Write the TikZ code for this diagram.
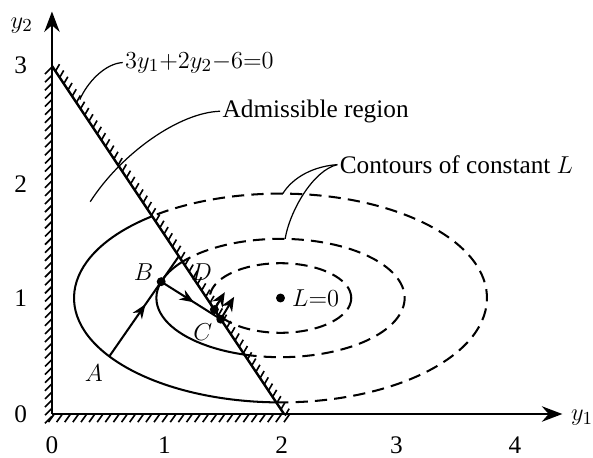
\documentclass[tikz,border=0pt]{standalone}
\usepackage{fontspec}
\setmainfont{Liberation Serif}
\usetikzlibrary{arrows.meta,decorations.markings}
\begin{document}
\begin{tikzpicture}[x=2cm,y=2cm,
  lbl/.style={font=\fontsize{12.4}{14}\selectfont, inner sep=1pt},
  axisline/.style={line width=1.4pt, -{Stealth[length=10pt,width=7.5pt]}},
  hatch/.style={line width=0.8pt},
  cont/.style={line width=1pt},
  dcont/.style={line width=1pt, dash pattern=on 6pt off 3.5pt},
  leader/.style={line width=0.6pt},
  ptdot/.style={circle, fill, inner sep=0pt, minimum size=4.4pt},
  vec/.style={line width=1pt, -{Stealth[length=7pt,width=6pt]}},
  midarrow/.style={postaction={decorate}, decoration={markings, mark=at position #1 with {\arrow{Stealth[length=7pt,width=5.5pt]}}}},
]
\useasboundingbox (-0.448,-0.379) rectangle (4.664,3.569);

% key points
\coordinate (O) at (0,0);
\coordinate (P3) at (0,3);
\coordinate (Q2) at (2,0);
\coordinate (ytop) at (0,3.47);
\coordinate (xend) at (4.40,0);
\coordinate (ctr) at (1.97,1);
\coordinate (A) at ({1.97+1.78*cos(214)},{1+0.9*sin(214)});
\coordinate (B) at ({1.97+1.07*cos(164)},{1+0.51*sin(164)});
\coordinate (E) at (1.094,1.360);
\coordinate (C) at (1.455,0.8175);
\coordinate (T) at (1.40,0.90);
\coordinate (T2) at (1.49,1.05);
\coordinate (C2) at (1.57,1.01);

% hatching
\foreach \t in {-0.02,0.05,...,3.06} \draw[hatch] (0,\t) -- ++(-0.06,-0.06);
\foreach \s in {0.02,0.09,...,2.07} \draw[hatch] (\s,0) -- ++(-0.05,-0.07);
\foreach \s in {0.03,0.066,...,2.04} \draw[hatch] (\s,{3-1.5*\s}) -- ++(60:0.07);

% axes
\draw[axisline] (O) -- (xend);
\draw[axisline] (O) -- (ytop);

% constraint line
\draw[line width=1.2pt] (P3) -- (Q2);

% contours
\draw[cont] (ctr) ++(128.43:1.78 and 0.9) arc[start angle=128.43, end angle=268.81, x radius=1.78, y radius=0.9];
\draw[dcont] (ctr) ++(-91.19:1.78 and 0.9) arc[start angle=-91.19, end angle=128.43, x radius=1.78, y radius=0.9];
\draw[cont] (ctr) ++(142.2:1.07 and 0.51) arc[start angle=142.2, end angle=253.1, x radius=1.07, y radius=0.51];
\draw[dcont] (ctr) ++(-106.9:1.07 and 0.51) arc[start angle=-106.9, end angle=142.2, x radius=1.07, y radius=0.51];
\draw[dcont] (ctr) ellipse[x radius=0.61, y radius=0.3];

% search path
\draw[cont, midarrow=0.52] (A) -- (E);
\draw[cont, midarrow=0.55] (B) -- (C);
\draw[vec] (T) -- (T2);
\draw[vec] (C) -- (C2);

% dots
\node[ptdot] (Bd) at (B) {};
\node[ptdot] (Cd) at (C) {};
\node[ptdot] (Td) at (T) {};
\node[ptdot] (Ld) at (ctr) {};

% point labels
\node[lbl] (lA) at (0.36,0.35) {$A$};
\node[lbl] (lB) at (0.79,1.22) {$B$};
\node[lbl] (lC) at (1.30,0.71) {$C$};
\node[lbl] (lD) at (1.29,1.22) {$D$};
\node[lbl, anchor=west] (lL) at (2.05,1.0) {$L{=}0$};

% axis labels
\node[lbl] (y2lab) at (-0.26,3.35) {$y_2$};
\node[lbl] (y1lab) at (4.57,-0.03) {$y_1$};
\node[lbl] (x0) at (0,-0.27) {0};
\node[lbl] (x1) at (0.97,-0.27) {1};
\node[lbl] (x2) at (1.98,-0.27) {2};
\node[lbl] (x3) at (2.97,-0.27) {3};
\node[lbl] (x4) at (3.99,-0.27) {4};
\node[lbl] (yt0) at (-0.27,0) {0};
\node[lbl] (yt1) at (-0.27,1) {1};
\node[lbl] (yt2) at (-0.27,1.98) {2};
\node[lbl] (yt3) at (-0.27,3.01) {3};

% annotations with leaders
\node[lbl, anchor=west] (eq) at (0.61,3.03) {$3y_1{+}2y_2{-}6{=}0$};
\coordinate (eqend) at (0.24,2.71);
\draw[leader] (eq.west) .. controls (0.45,3.02) and (0.3,2.85) .. (eqend);

\node[lbl, anchor=west] (adm) at (1.45,2.61) {Admissible region};
\coordinate (admend) at (0.33,1.83);
\draw[leader] (adm.west) .. controls (1.1,2.6) and (0.6,2.25) .. (admend);

\node[lbl, anchor=west] (contl) at (2.46,2.15) {Contours of constant $L$};
\coordinate (c1end) at (1.99,1.90);
\coordinate (c2end) at (2.01,1.51);
\draw[leader] (contl.west) .. controls (2.2,2.13) and (2.05,2.0) .. (c1end);
\draw[leader] (contl.west) .. controls (2.25,2.1) and (2.05,1.75) .. (c2end);
\end{tikzpicture}
\end{document}
